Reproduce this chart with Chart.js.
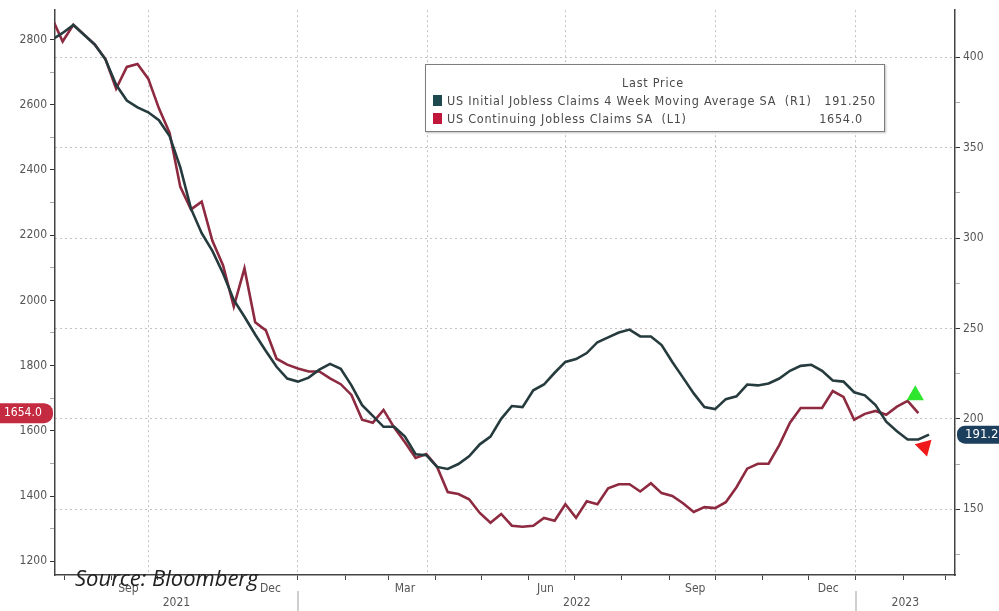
<!DOCTYPE html>
<html lang="en">
<head>
  <meta charset="UTF-8" />
  <title>US Jobless Claims</title>
  <script src="https://cdn.jsdelivr.net/npm/chart.js"></script>
  <style>
    body { margin: 0; background: #fff; }
    #wrap { position: relative; width: 999px; height: 611px; overflow: hidden; }
    #legendBox {
      position: absolute; left: 425px; top: 64px; width: 458px; height: 66px;
      border: 1px solid #7d7d7d; background: #fff; box-shadow: 1px 1px 2px rgba(0,0,0,0.25);
      font-family: 'DejaVu Sans Condensed', 'Liberation Sans Narrow', 'DejaVu Sans', sans-serif;
      font-size: 12.5px; letter-spacing: 0.75px; color: #4a4a4a;
    }
    #legendBox span { position: absolute; white-space: pre; line-height: 14px; }
    .sw { width: 9px; height: 11px; }
    #source {
      position: absolute; left: 75px; top: 566px; line-height: 22px;
      font-family: 'Open Sans', 'Noto Sans', sans-serif; font-style: italic; font-size: 22px; color: #222;
    }
  </style>
</head>
<body>
<div id="wrap">
  <canvas id="chart" width="999" height="611"></canvas>
  <div id="legendBox">
    <span style="left:0;width:454px;text-align:center;top:11px;">Last Price</span>
    <span class="sw" style="left:7px;top:30px;background:#1e4a4f;"></span>
    <span style="left:21px;top:29px;">US Initial Jobless Claims 4 Week Moving Average SA  (R1)</span>
    <span style="right:8px;top:29px;">191.250</span>
    <span class="sw" style="left:7px;top:48px;background:#c0163c;"></span>
    <span style="left:21px;top:47px;">US Continuing Jobless Claims SA  (L1)</span>
    <span style="right:21px;top:47px;">1654.0</span>
  </div>
  <div id="source">Source: Bloomberg</div>
</div>

<script>
// weekly observations, first week ending 2021-07-24
const firstWeek = '2021-07-24';

// US Continuing Jobless Claims SA (thousands, left axis)
const continuingClaims = [
  2866, 2794, 2845, 2815, 2785, 2740, 2649, 2716, 2725, 2680,
  2589, 2514, 2348, 2279, 2303, 2183, 2107, 1981, 2098, 1933,
  1908, 1821, 1803, 1791, 1782, 1782, 1761, 1743, 1710, 1634,
  1625, 1664, 1610, 1565, 1517, 1529, 1490, 1412, 1406, 1390,
  1348, 1318, 1345, 1309, 1306, 1309, 1333, 1324, 1375, 1333,
  1384, 1375, 1424, 1436, 1436, 1414, 1439, 1409, 1400, 1378,
  1351, 1366, 1363, 1381, 1427, 1484, 1499, 1499, 1556, 1625,
  1670, 1670, 1670, 1722, 1704, 1634, 1652, 1661, 1649, 1674,
  1692, 1654
];

// US Initial Jobless Claims 4 Week Moving Average SA (thousands, right axis)
const initialClaims4wk = [
  409.8, 413.5, 417.9, 412.5, 407.1, 398.9, 384.8, 376.1, 372.3, 369.6,
  365.2, 356.5, 339.1, 316.3, 302.7, 292.9, 280.4, 265.8, 256.5, 246.7,
  237.5, 228.8, 222.3, 220.6, 222.8, 227.2, 230.4, 227.7, 218.5, 207.6,
  201.6, 195.6, 195.6, 190.2, 180.4, 179.9, 173.4, 172.3, 175.0, 179.3,
  185.9, 190.2, 200.0, 207.1, 206.5, 215.8, 219.0, 225.5, 231.5, 233.1,
  236.4, 242.4, 245.1, 247.8, 249.4, 245.6, 245.6, 240.8, 231.5, 222.8,
  214.1, 206.5, 205.4, 210.9, 212.5, 219.0, 218.5, 219.6, 222.3, 226.6,
  229.3, 229.9, 226.6, 221.2, 220.6, 214.7, 213.0, 207.6, 198.4, 193.1,
  188.6, 188.6, 191.25
];

const leftTicks = [1200, 1400, 1600, 1800, 2000, 2200, 2400, 2600, 2800];
const leftMinor = [1300, 1500, 1700, 1900, 2100, 2300, 2500, 2700];
const rightTicks = [150, 200, 250, 300, 350, 400];
const rightMinor = [125, 175, 225, 275, 325, 375];

const monthTicks = ['2021-08-01', '2021-09-01', '2021-10-01', '2021-11-01', '2021-12-01',
  '2022-01-01', '2022-02-01', '2022-03-01', '2022-04-01', '2022-05-01', '2022-06-01',
  '2022-07-01', '2022-08-01', '2022-09-01', '2022-10-01', '2022-11-01', '2022-12-01',
  '2023-01-01', '2023-02-01', '2023-03-01'];
const quarterLines = ['2021-09-25', '2022-01-01', '2022-03-27', '2022-06-25', '2022-10-01', '2023-01-01'];
const monthNames = ['Sep', 'Dec', 'Mar', 'Jun', 'Sep', 'Dec'];
const monthNameDates = ['2021-09-12', '2021-12-14', '2022-03-12', '2022-06-12', '2022-09-18', '2022-12-14'];
const yearNames = ['2021', '2022', '2023'];
const yearBreaks = ['2022-01-01', '2023-01-01'];

const xStart = '2021-07-26', xEnd = '2023-03-07';
const lastRed = 1654.0, lastDark = 191.25;
const highMarker = { date: '2023-02-09', value: 1709 };  // green, left axis
const lowMarker = { date: '2023-02-15', value: 184.5 };  // red, right axis

const dayOf = s => (Date.parse(s) - Date.parse('2022-01-01')) / 86400000;
const d0 = dayOf(firstWeek);
const redPts = continuingClaims.map((v, i) => ({ x: d0 + 7 * i, y: v }));
const darkPts = initialClaims4wk.map((v, i) => ({ x: d0 + 7 * i, y: v }));
const monthDays = monthTicks.map(dayOf);
const quarterDays = quarterLines.map(dayOf);

const FONT = "'DejaVu Sans Condensed', 'Liberation Sans Narrow', 'DejaVu Sans', sans-serif";
const tickFont = { family: FONT, size: 12 };

const extras = {
  id: 'extras',
  afterDraw(chart) {
    const { ctx, scales: { x, yL, yR } } = chart;
    ctx.save();
    ctx.font = '12px ' + FONT;
    ctx.fillStyle = '#555';
    ctx.textAlign = 'center';
    ctx.textBaseline = 'middle';
    monthNames.forEach((m, i) => ctx.fillText(m, x.getPixelForValue(dayOf(monthNameDates[i])), 589));

    // year labels + separators
    const edges = [x.left].concat(yearBreaks.map(d => x.getPixelForValue(dayOf(d)))).concat([x.right]);
    yearNames.forEach((y, i) => ctx.fillText(y, (edges[i] + edges[i + 1]) / 2, 603));
    ctx.strokeStyle = '#cfcfcf';
    ctx.lineWidth = 2;
    yearBreaks.forEach(d => {
      const px = Math.round(x.getPixelForValue(dayOf(d)));
      ctx.beginPath(); ctx.moveTo(px, 591); ctx.lineTo(px, 611); ctx.stroke();
    });

    // last value badges
    const ly = yL.getPixelForValue(lastRed);
    ctx.fillStyle = '#c42a40';
    ctx.beginPath(); ctx.roundRect(-8, ly - 10, 61, 20, 9); ctx.fill();
    ctx.fillStyle = '#fff';
    ctx.font = '12px ' + FONT;
    ctx.textAlign = 'left';
    ctx.fillText(lastRed.toFixed(1), 4, ly);

    const ry = yR.getPixelForValue(lastDark);
    ctx.fillStyle = '#1d3f5e';
    ctx.beginPath(); ctx.roundRect(957, ry - 9, 60, 18, 8); ctx.fill();
    ctx.fillStyle = '#fff';
    ctx.font = '13px ' + FONT;
    ctx.fillText(lastDark.toFixed(3), 965, ry);
    ctx.restore();
  }
};

new Chart(document.getElementById('chart'), {
  type: 'line',
  data: {
    datasets: [
      { data: [{ x: dayOf(highMarker.date), y: highMarker.value }], yAxisID: 'yL', showLine: false,
        pointStyle: 'triangle', pointRadius: 10, backgroundColor: '#2ee62e', borderWidth: 0 },
      { data: [{ x: dayOf(lowMarker.date), y: lowMarker.value }], yAxisID: 'yR', showLine: false,
        pointStyle: 'triangle', pointRotation: 165, pointRadius: 10, backgroundColor: '#f01818', borderWidth: 0 },
      { label: 'US Initial Jobless Claims 4 Week Moving Average SA (R1)', data: darkPts, yAxisID: 'yR',
        borderColor: '#263b3d', borderWidth: 2.6, pointRadius: 0, tension: 0 },
      { label: 'US Continuing Jobless Claims SA (L1)', data: redPts, yAxisID: 'yL',
        borderColor: '#8e2a40', borderWidth: 2.6, pointRadius: 0, tension: 0 }
    ]
  },
  options: {
    responsive: false,
    animation: false,
    layout: { padding: 0 },
    plugins: { legend: { display: false }, tooltip: { enabled: false } },
    scales: {
      x: {
        type: 'linear', min: dayOf(xStart), max: dayOf(xEnd),
        afterBuildTicks: s => {
          const all = Array.from(new Set(monthDays.concat(quarterDays))).sort((a, b) => a - b);
          s.ticks = all.map(v => ({ value: v }));
        },
        afterFit: s => { s.height = 36; },
        ticks: { display: false },
        grid: {
          color: c => quarterDays.includes(c.tick && c.tick.value) ? '#c2c2c2' : 'rgba(0,0,0,0)',
          tickColor: c => monthDays.includes(c.tick && c.tick.value) ? '#444' : 'rgba(0,0,0,0)',
          tickLength: 5, tickBorderDash: []
        },
        border: { color: '#444', width: 1.5, dash: [2, 3] }
      },
      yL: {
        position: 'left', min: 1157.8, max: 2890,
        afterBuildTicks: s => { s.ticks = leftTicks.concat(leftMinor).sort((a, b) => a - b).map(v => ({ value: v })); },
        afterFit: s => { s.width = 55; },
        ticks: { callback: v => leftTicks.includes(v) ? String(v) : '', color: '#555', font: tickFont, padding: 3 },
        grid: { drawOnChartArea: false, tickLength: 5,
          tickColor: c => leftTicks.includes(c.tick && c.tick.value) ? '#333' : '#aaa' },
        border: { color: '#444', width: 1.5 }
      },
      yR: {
        position: 'right', min: 113.6, max: 426.1,
        afterBuildTicks: s => { s.ticks = rightTicks.concat(rightMinor).sort((a, b) => a - b).map(v => ({ value: v })); },
        afterFit: s => { s.width = 44; },
        ticks: { callback: v => rightTicks.includes(v) ? String(v) : '', color: '#555', font: tickFont, padding: 3 },
        grid: {
          color: c => rightTicks.includes(c.tick && c.tick.value) ? '#c2c2c2' : 'rgba(0,0,0,0)',
          tickLength: 5, tickBorderDash: [],
          tickColor: c => rightTicks.includes(c.tick && c.tick.value) ? '#333' : '#aaa'
        },
        border: { color: '#444', width: 1.5, dash: [2, 3] }
      }
    }
  },
  plugins: [extras]
});
</script>
</body>
</html>
